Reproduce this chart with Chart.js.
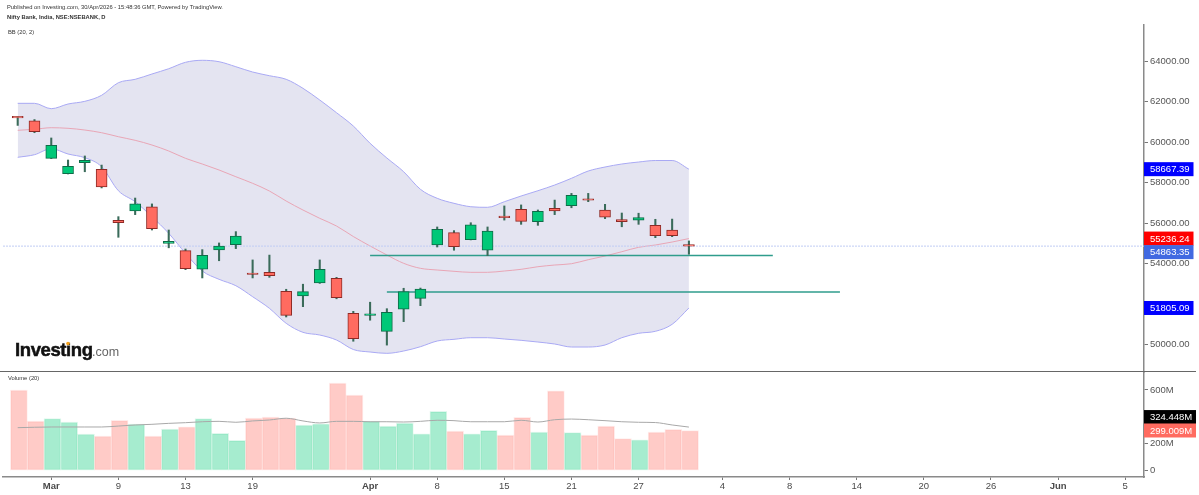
<!DOCTYPE html>
<html>
<head>
<meta charset="utf-8">
<title>Nifty Bank</title>
<script src="https://cdn.jsdelivr.net/npm/chart.js@4"></script>
<style>
    html, body { margin: 0; padding: 0; background: #fff; }
    canvas { display: block; }
</style>
</head>
<body>
<canvas id="chart" width="1199" height="495"></canvas>
<script>
// Daily candles
const opens = [61230, 61060, 59200, 58440, 58990, 58660, 56140, 56600, 56810, 55000, 54640, 53720, 54670, 54930, 53490, 53570, 52630, 52400, 53040, 53270, 51540, 51440, 50650, 51750, 52280, 54920, 55530, 55180, 54660, 56350, 56680, 56070, 56730, 56860, 57180, 56650, 56170, 56150, 55890, 55660, 54880];
const highs = [61250, 61120, 60210, 59120, 59320, 58870, 56320, 57240, 56950, 55660, 54720, 54690, 55020, 55580, 54180, 54420, 52730, 52980, 54180, 53320, 51640, 52090, 51770, 52780, 52790, 55810, 55630, 56020, 55810, 56850, 56900, 56650, 57140, 57470, 57470, 56930, 56500, 56490, 56190, 56200, 55120];
const lows = [60830, 60470, 59190, 58430, 58540, 57740, 55300, 56420, 55660, 54780, 53700, 53290, 54140, 54740, 53290, 53320, 51360, 51870, 53020, 52260, 50160, 51200, 49970, 51130, 51920, 54820, 54660, 55170, 54390, 56150, 55940, 55890, 56420, 56760, 57060, 56220, 55820, 55940, 55280, 55330, 54460];
const closes = [61200, 60520, 59850, 58810, 59100, 57790, 56020, 56950, 55720, 55100, 53750, 54410, 54870, 55360, 53460, 53400, 51440, 52610, 53720, 52310, 50290, 51470, 51590, 52610, 52740, 55690, 54830, 55910, 55610, 56270, 56090, 56580, 56600, 57380, 57130, 56290, 56070, 56270, 55380, 55380, 54863.35];

// Bollinger bands (20, 2)
const bbUpper = [61923, 61923, 61657, 61889, 62022, 62319, 62942, 63110, 63372, 63634, 63951, 64050, 63980, 63733, 63471, 63288, 63110, 62665, 62087, 61459, 60801, 59946, 59219, 58542, 57672, 57227, 56980, 56811, 56782, 57059, 57341, 57602, 57884, 58216, 58576, 58774, 58923, 59021, 59096, 59096, 58667.39];
const bbMiddle = [60589, 60638, 60717, 60688, 60603, 60470, 60272, 60094, 59862, 59566, 59204, 58923, 58626, 58294, 57968, 57588, 57093, 56648, 56238, 55857, 55338, 54869, 54424, 54013, 53766, 53682, 53618, 53568, 53568, 53633, 53716, 53845, 53929, 53993, 54191, 54374, 54586, 54804, 54918, 55066, 55236.24];
const bbLower = [59254, 59382, 59679, 59417, 59234, 58789, 57602, 57059, 56317, 55496, 54508, 53633, 53222, 52906, 52362, 51788, 51046, 50601, 50468, 50221, 49751, 49628, 49563, 49677, 49890, 50172, 50256, 50335, 50335, 50271, 50206, 50122, 50024, 49875, 49875, 49974, 50335, 50552, 50651, 50997, 51805.09];

// Volume in millions and its 20 day average
const volumes = [600, 369, 387, 362, 273, 258, 375, 347, 258, 310, 327, 387, 278, 226, 392, 399, 392, 340, 349, 652, 563, 369, 332, 354, 275, 441, 295, 275, 300, 265, 397, 288, 593, 283, 265, 332, 238, 230, 288, 308, 299.009];
const volumeAvg = [320, 323, 325, 325, 325, 325, 332, 340, 345, 352, 357, 364, 367, 360, 370, 377, 390, 370, 355, 367, 367, 364, 364, 362, 367, 375, 372, 364, 364, 364, 375, 362, 379, 384, 379, 372, 364, 360, 358, 340, 324.448];

// Trend lines: [start bar, end bar, price]
const trendLineA = [21, 45, 54400];
const trendLineB = [22, 49, 52600];
const lastPrice = 54863.35;

// Axis labels
const tickBars = [2, 6, 10, 14, 21, 25, 29, 33, 37, 42, 46, 50, 54, 58, 62, 66];
const tickLabels = ['Mar', '9', '13', '19', 'Apr', '8', '15', '21', '27', '4', '8', '14', '20', '26', 'Jun', '5'];
const monthLabels = ['Mar', 'Apr', 'Jun'];
const priceTicks = [50000, 52000, 54000, 56000, 58000, 60000, 62000, 64000];
const volumeTicks = [0, 200, 400, 600];

// Value tags on the right axis: [text, value, colour, nudge up/down in px]
const priceTags = [
    ['58667.39', 58667.39, '#0000ff', 0],
    ['55236.24', 55236.24, '#ff0000', 0],
    ['54863.35', 54863.35, '#4169e1', 6],
    ['51805.09', 51805.09, '#0000ff', 0]
];
const volumeTags = [
    ['324.448M', 324.448, '#000000', -10],
    ['299.009M', 299.009, '#ff6b60', 0]
];

const FONT = '"Liberation Sans", Arial, sans-serif';
const X_MIN = -0.876, X_MAX = 67.12;
const VOLUME_X_SHIFT = 0.07; // volume bars sit about 1px right of the candles

const isUp = i => closes[i] >= opens[i];
const toPoints = values => values.map((v, i) => ({ x: i, y: v }));
const segment = line => [{ x: line[0], y: line[2] }, { x: line[1], y: line[2] }];
const isMonthTick = tick => !!tick && monthLabels.includes(tickLabels[tickBars.indexOf(tick.value)]);

const bandLine = (values, color, order, extra) => Object.assign({
    type: 'line', data: toPoints(values), yAxisID: 'y', borderColor: color, borderWidth: 1,
    pointRadius: 0, cubicInterpolationMode: 'monotone', order: order
}, extra);

// Texts, separator line and value tags, drawn around the chart
const overlayPlugin = {
    id: 'overlay',
    afterDraw(chart) {
        const ctx = chart.ctx;
        const yPrice = chart.scales.y;
        const yVolume = chart.scales.yVol;
        ctx.save();
        ctx.textBaseline = 'middle';
        ctx.textAlign = 'left';

        ctx.fillStyle = '#333';
        ctx.font = '5.8px ' + FONT;
        ctx.fillText('Published on Investing.com, 30/Apr/2026 - 15:48:36 GMT, Powered by TradingView.', 7, 7.5);
        ctx.font = 'bold 5.8px ' + FONT;
        ctx.fillText('Nifty Bank, India, NSE:NSEBANK, D', 7, 17.5);
        ctx.font = '5.8px ' + FONT;
        ctx.fillText('BB (20, 2)', 8, 32);
        ctx.fillText('Volume (20)', 8, 378.5);

        // Logo
        ctx.fillStyle = '#111';
        ctx.strokeStyle = '#111';
        ctx.lineWidth = 0.5;
        ctx.font = 'bold 18.5px ' + FONT;
        ctx.letterSpacing = '-0.4px';
        ctx.fillText('Investing', 15, 351);
        ctx.strokeText('Investing', 15, 351);
        ctx.letterSpacing = '0px';
        ctx.fillStyle = '#666';
        ctx.font = '12.5px ' + FONT;
        ctx.fillText('.com', 92, 353);
        ctx.fillStyle = '#f7a21b';
        ctx.beginPath();
        ctx.arc(68, 343.5, 1.8, 0, Math.PI * 2);
        ctx.fill();

        // Pane separator
        ctx.strokeStyle = '#666';
        ctx.lineWidth = 1;
        ctx.beginPath();
        ctx.moveTo(0, 371.5);
        ctx.lineTo(1196, 371.5);
        ctx.stroke();

        const drawTag = (scale, tag, width) => {
            const y = scale.getPixelForValue(tag[1]) + tag[3];
            ctx.fillStyle = tag[2];
            ctx.fillRect(1144, y - 7, width, 14);
            ctx.fillStyle = '#fff';
            ctx.font = '9.5px ' + FONT;
            ctx.fillText(tag[0], 1150, y + 0.5);
        };
        priceTags.forEach(tag => drawTag(yPrice, tag, 49.5));
        volumeTags.forEach(tag => drawTag(yVolume, tag, 52));
        ctx.restore();
    }
};

new Chart(document.getElementById('chart').getContext('2d'), {
    data: {
        datasets: [
            bandLine(bbUpper, '#a9a9f4', 10, { fill: '+2', backgroundColor: '#e4e4f1' }),
            bandLine(bbMiddle, '#e9a6b6', 9),
            bandLine(bbLower, '#a9a9f4', 8),
            {
                type: 'line', data: [{ x: X_MIN, y: lastPrice }, { x: X_MAX, y: lastPrice }], yAxisID: 'y',
                borderColor: '#c0ccf4', borderWidth: 1, borderDash: [2, 1], pointRadius: 0, order: 7
            },
            {
                type: 'line', data: segment(trendLineA), yAxisID: 'y',
                borderColor: '#2f9d8c', borderWidth: 1.5, pointRadius: 0, order: 6
            },
            {
                type: 'line', data: segment(trendLineB), yAxisID: 'y',
                borderColor: '#2f9d8c', borderWidth: 1.5, pointRadius: 0, order: 6
            },
            {
                // Wicks
                type: 'bar', data: lows.map((low, i) => ({ x: i, y: [low, highs[i]] })), yAxisID: 'y',
                grouped: false, barThickness: 1.4, backgroundColor: '#3a6b5a', borderWidth: 0, order: 3
            },
            {
                // Candle bodies
                type: 'bar', data: closes.map((close, i) => ({ x: i, y: [opens[i], close] })), yAxisID: 'y',
                grouped: false, barThickness: 11, minBarLength: 1.5, borderSkipped: false, borderWidth: 1,
                backgroundColor: c => isUp(c.dataIndex) ? '#00c878' : '#ff6b60',
                borderColor: c => isUp(c.dataIndex) ? '#0f6b48' : '#8e2a26',
                order: 2
            },
            {
                type: 'bar', data: volumes.map((v, i) => ({ x: i + VOLUME_X_SHIFT, y: v })), yAxisID: 'yVol',
                grouped: false, barThickness: 17, borderWidth: 1, borderSkipped: false,
                backgroundColor: c => isUp(c.dataIndex) ? 'rgba(0,200,118,0.35)' : 'rgba(255,106,95,0.35)',
                borderColor: c => isUp(c.dataIndex) ? 'rgba(0,200,118,0.12)' : 'rgba(255,106,95,0.12)',
                order: 5
            },
            {
                type: 'line', data: toPoints(volumeAvg), yAxisID: 'yVol', borderColor: '#a8a8a8', borderWidth: 1,
                pointRadius: 0, cubicInterpolationMode: 'monotone', order: 4
            }
        ]
    },
    options: {
        responsive: false,
        animation: false,
        layout: { padding: { top: 25, left: 3 } },
        plugins: { legend: { display: false }, tooltip: { enabled: false } },
        scales: {
            x: {
                type: 'linear',
                offset: false,
                min: X_MIN,
                max: X_MAX,
                afterBuildTicks: scale => { scale.ticks = tickBars.map(v => ({ value: v })); },
                afterFit: scale => { scale.height = 18; },
                grid: { offset: false, drawOnChartArea: false, tickLength: 3, color: '#777' },
                border: { color: '#8a8a8a', width: 1.5 },
                ticks: {
                    autoSkip: false,
                    maxRotation: 0,
                    padding: 1,
                    color: '#4a4a4a',
                    font: c => ({ family: FONT, size: 9.5, weight: isMonthTick(c.tick) ? 'bold' : 'normal' }),
                    callback: v => tickLabels[tickBars.indexOf(v)]
                }
            },
            y: {
                position: 'right',
                stack: 'panes',
                stackWeight: 347,
                min: 48640,
                max: 65795,
                afterBuildTicks: scale => { scale.ticks = priceTicks.map(v => ({ value: v })); },
                afterFit: scale => { scale.width = 55; },
                grid: { drawOnChartArea: false, tickLength: 4, color: '#777' },
                border: { color: '#8a8a8a', width: 1.5 },
                ticks: { padding: 2, color: '#555', font: { family: FONT, size: 9.5 }, callback: v => v.toFixed(2) }
            },
            yVol: {
                position: 'right',
                stack: 'panes',
                stackWeight: 105,
                min: -46.8,
                max: 733.8,
                afterBuildTicks: scale => { scale.ticks = volumeTicks.map(v => ({ value: v })); },
                afterFit: scale => { scale.width = 55; },
                grid: { drawOnChartArea: false, tickLength: 4, color: '#777' },
                border: { color: '#8a8a8a', width: 1.5 },
                ticks: { padding: 2, color: '#555', font: { family: FONT, size: 9.5 }, callback: v => v === 0 ? '0' : v + 'M' }
            }
        }
    },
    plugins: [overlayPlugin]
});
</script>
</body>
</html>
